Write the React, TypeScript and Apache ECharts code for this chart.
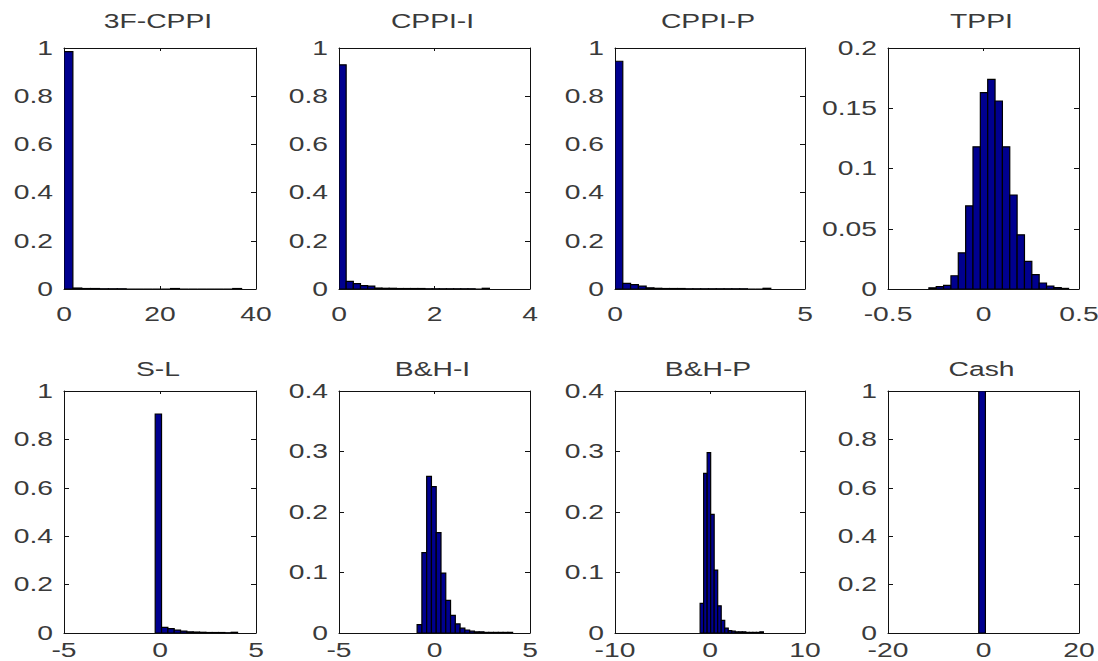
import React, { useEffect, useRef } from "react";
import * as echarts from "echarts";

// ---- data ----
const titles = ["3F-CPPI", "CPPI-I", "CPPI-P", "TPPI", "S-L", "B&H-I", "B&H-P", "Cash"];

// histogram bins: left edge of first bin and (uniform) bin width per panel
const binStart = [0, 0, 0, -0.286, -0.25, -0.91, -1.04, -1.0];
const binWidth = [1.85, 0.15, 0.205, 0.0385, 0.33, 0.25, 0.37, 1.4];

const h3FCPPI = [0.985, 0.004, 0.002, 0.002, 0.001, 0.001, 0.001, 0, 0, 0, 0, 0, 0.002, 0, 0, 0, 0, 0, 0, 0.002];
const hCPPII = [0.93, 0.032, 0.022, 0.014, 0.012, 0.004, 0.003, 0.003, 0.002, 0.002, 0.002, 0.002, 0.001, 0.001, 0.001, 0.001, 0.001, 0.001, 0.001, 0, 0.003];
const hCPPIP = [0.945, 0.023, 0.018, 0.012, 0.005, 0.003, 0.002, 0.002, 0.002, 0.001, 0.001, 0.001, 0.001, 0.001, 0.001, 0.001, 0.001, 0, 0, 0.003];
const hTPPI = [0.001, 0.002, 0.003, 0.011, 0.03, 0.069, 0.118, 0.163, 0.174, 0.156, 0.118, 0.078, 0.045, 0.023, 0.012, 0.005, 0.0025, 0.0012, 0.0005];
const hSL = [0.905, 0.023, 0.018, 0.012, 0.008, 0.005, 0.004, 0.003, 0.002, 0.002, 0.002, 0.001, 0.003];
const hBHI = [0.014, 0.133, 0.259, 0.242, 0.166, 0.099, 0.054, 0.029, 0.015, 0.008, 0.005, 0.003, 0.002, 0.002, 0.001, 0.001, 0.001, 0.001, 0.001, 0.001];
const hBHP = [0.049, 0.264, 0.298, 0.196, 0.104, 0.045, 0.021, 0.008, 0.004, 0.003, 0.002, 0.002, 0.002, 0.001, 0.001, 0.001, 0.001, 0.002];
const hCash = [1.0];
const heights = [h3FCPPI, hCPPII, hCPPIP, hTPPI, hSL, hBHI, hBHP, hCash];

// axis ranges and tick values
const xMin = [0, 0, 0, -0.5, -5, -5, -10, -20];
const xMax = [40, 4, 5, 0.5, 5, 5, 10, 20];
const xInterval = [20, 2, 5, 0.5, 5, 5, 10, 20];
const xTicks = [[0, 20, 40], [0, 2, 4], [0, 5], [-0.5, 0, 0.5], [-5, 0, 5], [-5, 0, 5], [-10, 0, 10], [-20, 0, 20]];
const yMax = [1, 1, 1, 0.2, 1, 0.4, 0.4, 1];
const yInterval = [0.2, 0.2, 0.2, 0.05, 0.2, 0.1, 0.1, 0.2];
const yUnit = [0, 0.2, 0.4, 0.6, 0.8, 1];
const yTPPI = [0, 0.05, 0.1, 0.15, 0.2];
const yBH = [0, 0.1, 0.2, 0.3, 0.4];
const yTicks = [yUnit, yUnit, yUnit, yTPPI, yUnit, yBH, yBH, yUnit];

// ---- layout ----
const colLeft = [64, 339, 615, 888];
const colWidth = [192, 191, 190, 191];
const rowTop = [48, 391];
const rowHeight = [241, 242];
const titleY = [21, 369];
const xLabelOffset = [25, 17];
const FONT = "'Liberation Sans', Arial, sans-serif";
const FONT_SIZE = 19.5;
const SX = 1.45;
const TEXT_COLOR = "#3a3a3a";

export default function App() {
  const ref = useRef<HTMLDivElement>(null);

  useEffect(() => {
    if (!ref.current) return;
    const chart = echarts.init(ref.current, null, { renderer: "svg" });

    const grid: any[] = [];
    const xAxis: any[] = [];
    const yAxis: any[] = [];
    const series: any[] = [];

    titles.forEach((t, i) => {
      const r = Math.floor(i / 4);
      const c = i % 4;
      grid.push({ left: colLeft[c], top: rowTop[r], width: colWidth[c], height: rowHeight[r], show: false });
      ["bottom", "top"].forEach((pos) => {
        xAxis.push({
          type: "value", gridIndex: i, position: pos, min: xMin[i], max: xMax[i], interval: xInterval[i],
          axisLine: { show: true, onZero: false, lineStyle: { color: "#111", width: 1 } },
          axisTick: { show: true, inside: true, length: 3, lineStyle: { color: "#111", width: 1 } },
          axisLabel: { show: false }, splitLine: { show: false },
        });
      });
      ["left", "right"].forEach((pos) => {
        yAxis.push({
          type: "value", gridIndex: i, position: pos, min: 0, max: yMax[i], interval: yInterval[i],
          axisLine: { show: true, onZero: false, lineStyle: { color: "#111", width: 1 } },
          axisTick: { show: true, inside: true, length: 5, lineStyle: { color: "#111", width: 1 } },
          axisLabel: { show: false }, splitLine: { show: false },
        });
      });
      series.push({
        type: "custom",
        name: t,
        xAxisIndex: 2 * i,
        yAxisIndex: 2 * i,
        clip: true,
        encode: { x: [0, 1], y: 2 },
        data: heights[i].map((h, k) => [binStart[i] + k * binWidth[i], binStart[i] + (k + 1) * binWidth[i], h]),
        renderItem: (params: any, api: any) => {
          const a = api.coord([api.value(0), api.value(2)]);
          const b = api.coord([api.value(1), 0]);
          return {
            type: "rect",
            shape: { x: a[0], y: a[1], width: b[0] - a[0], height: b[1] - a[1] },
            style: { fill: "#00008f", stroke: "#000", lineWidth: 1.2 },
          };
        },
      });
    });

    chart.setOption({ animation: false, backgroundColor: "#fff", grid, xAxis, yAxis, series });

    const g: any[] = [];
    const txt = (x: number, y: number, text: string, align: string) => ({
      type: "text", x, y, scaleX: SX, silent: true,
      style: { text, x: 0, y: 0, align, verticalAlign: "middle", fontSize: FONT_SIZE, fontFamily: FONT, fill: TEXT_COLOR },
    });
    titles.forEach((t, i) => {
      const r = Math.floor(i / 4);
      const c = i % 4;
      g.push(txt(colLeft[c] + colWidth[c] / 2 - 2, titleY[r], t, "center"));
      xTicks[i].forEach((v) => {
        const px = chart.convertToPixel({ xAxisIndex: 2 * i } as any, v) as unknown as number;
        g.push(txt(px, rowTop[r] + rowHeight[r] + xLabelOffset[r], String(v), "center"));
      });
      yTicks[i].forEach((v) => {
        const py = chart.convertToPixel({ yAxisIndex: 2 * i } as any, v) as unknown as number;
        g.push(txt(colLeft[c] - 11, py, String(v), "right"));
      });
    });
    chart.setOption({ graphic: g });

    return () => chart.dispose();
  }, []);

  return <div ref={ref} style={{ position: "absolute", left: 0, top: 0, width: 1098, height: 661 }} />;
}
